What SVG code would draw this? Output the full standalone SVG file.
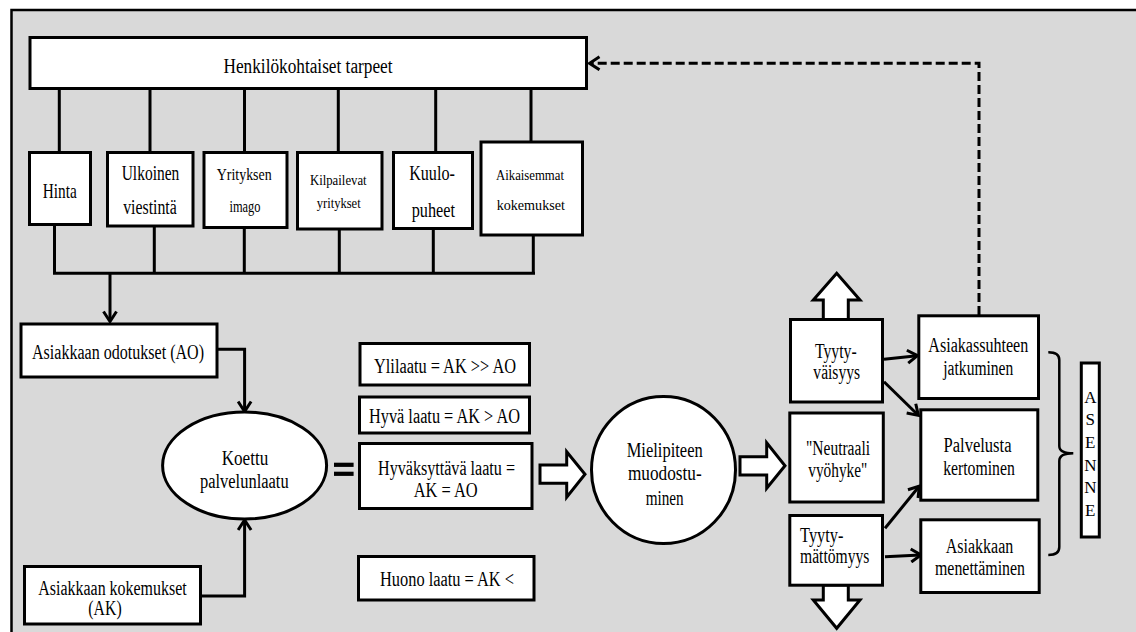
<svg xmlns="http://www.w3.org/2000/svg" width="1136" height="632" viewBox="0 0 1136 632">
<style>
.bx{fill:#fff;stroke:#000;stroke-width:3}
.ln{fill:none;stroke:#000;stroke-width:3}
.ar{fill:none;stroke:#000;stroke-width:3;marker-end:url(#ah)}
.blk{fill:#fff;stroke:#000;stroke-width:3;stroke-linejoin:miter}
.t{font-family:'Liberation Serif',serif;font-size:20px;fill:#000;text-anchor:middle}
.s14{font-size:14px}
.s15{font-size:15px}
.s17{font-size:17px}
.s21{font-size:21px}
.s22{font-size:22px}
</style>
<defs>
<marker id="ah" viewBox="0 0 16 16" refX="12.5" refY="8" markerWidth="16" markerHeight="16" markerUnits="userSpaceOnUse" orient="auto">
<path d="M3,1.5 L13,8 L3,14.5" fill="none" stroke="#000" stroke-width="3"/>
</marker>
</defs>
<rect x="0" y="0" width="1136" height="632" fill="#fff"/>
<rect x="11.5" y="10" width="1124.5" height="622" fill="#d9d9d9"/>
<path d="M11.5,632 V10 H1136" fill="none" stroke="#000" stroke-width="2.5"/>

<g id="connectors">
<path class="ln" d="M59.3,88.5 V152.5 M150,88.5 V152.5 M244.5,88.5 V152.5 M338.3,88.5 V152.5 M435.7,88.5 V152.5 M531,88.5 V142"/>
<path class="ln" d="M54.5,224.5 V273.3 M154.3,226 V273.3 M244.3,227.5 V273.3 M339.3,229 V273.3 M433.3,228.5 V273.3 M533.3,235 V273.3 M53,273.3 H535"/>
<path class="ar" d="M110,273.3 V321"/>
<path class="ar" d="M217,349.3 H244.6 V411"/>
<path class="ar" d="M200,596 H244.6 V520.5"/>
<path class="ar" d="M884,359.3 L917,355.7"/>
<path class="ar" d="M884,381.7 L918,415"/>
<path class="ar" d="M885,528.3 L919,486.5"/>
<path class="ar" d="M885,556.7 L920.5,555"/>
<path class="ar" d="M979,315 V63.3 H590" stroke-dasharray="9 4"/>
<path d="M1048.3,352.3 Q1059.3,352.3 1059.3,360 V446 Q1059.3,453.3 1073.3,453.3 Q1059.3,453.3 1059.3,461 V547 Q1059.3,555 1048.3,555" fill="none" stroke="#000" stroke-width="2.5"/>
<rect x="334" y="462.7" width="19.6" height="4.2" fill="#000"/>
<rect x="334" y="471.7" width="19.6" height="4.2" fill="#000"/>
<polygon class="blk" points="540,465 566.7,465 566.7,451.7 585,474.3 566.7,497.3 566.7,483.3 540,483.3"/>
<polygon class="blk" points="740,456.7 766.7,456.7 766.7,442.7 785,465.7 766.7,488.3 766.7,475 740,475"/>
<polygon class="blk" points="823.3,319.5 823.3,300 813.3,300 836.7,273.3 860,300 848.3,300 848.3,319.5"/>
<polygon class="blk" points="823.3,585 823.3,600 813.3,600 836.7,628.3 860,600 848.3,600 848.3,585"/>
</g>

<g id="n-tarpeet">
<rect class="bx" x="30" y="37.5" width="556.5" height="51"/>
<text class="t" x="308" y="73.3" textLength="169" lengthAdjust="spacingAndGlyphs">Henkilökohtaiset tarpeet</text>
</g>
<g id="n-hinta">
<rect class="bx" x="29.5" y="152.5" width="61" height="72"/>
<text class="t s22" x="59.7" y="198.3" textLength="34" lengthAdjust="spacingAndGlyphs">Hinta</text>
</g>
<g id="n-ulkoinen">
<rect class="bx" x="107.5" y="152.5" width="85.5" height="73.5"/>
<text class="t" x="150.5" y="180" textLength="57.6" lengthAdjust="spacingAndGlyphs">Ulkoinen</text>
<text class="t" x="150" y="214" textLength="53.6" lengthAdjust="spacingAndGlyphs">viestintä</text>
</g>
<g id="n-imago">
<rect class="bx" x="204" y="152.5" width="83" height="75"/>
<text class="t s17" x="244.2" y="180" textLength="55" lengthAdjust="spacingAndGlyphs">Yrityksen</text>
<text class="t s17" x="245" y="211.7" textLength="31" lengthAdjust="spacingAndGlyphs">imago</text>
</g>
<g id="n-kilpailevat">
<rect class="bx" x="297.5" y="152.5" width="84.5" height="76.5"/>
<text class="t s15" x="338.3" y="185" textLength="56.7" lengthAdjust="spacingAndGlyphs">Kilpailevat</text>
<text class="t s15" x="338.7" y="208.3" textLength="44" lengthAdjust="spacingAndGlyphs">yritykset</text>
</g>
<g id="n-kuulopuheet">
<rect class="bx" x="393.5" y="152.5" width="79" height="76"/>
<text class="t s22" x="432" y="180" textLength="45.7" lengthAdjust="spacingAndGlyphs">Kuulo-</text>
<text class="t s22" x="433.3" y="216.7" textLength="43.3" lengthAdjust="spacingAndGlyphs">puheet</text>
</g>
<g id="n-aikaisemmat">
<rect class="bx" x="481" y="142" width="101.5" height="93"/>
<text class="t s14" x="530" y="180" textLength="68" lengthAdjust="spacingAndGlyphs">Aikaisemmat</text>
<text class="t s14" x="530.8" y="210" textLength="68.3" lengthAdjust="spacingAndGlyphs">kokemukset</text>
</g>
<g id="n-odotukset">
<rect class="bx" x="21" y="324" width="196" height="53"/>
<text class="t" x="118" y="359" textLength="172" lengthAdjust="spacingAndGlyphs">Asiakkaan odotukset (AO)</text>
</g>
<g id="n-kokemukset">
<rect class="bx" x="24.5" y="566.5" width="176" height="57.5"/>
<text class="t" x="112.5" y="595" textLength="148.3" lengthAdjust="spacingAndGlyphs">Asiakkaan kokemukset</text>
<text class="t" x="105" y="615" textLength="33.3" lengthAdjust="spacingAndGlyphs">(AK)</text>
</g>
<g id="n-koettu">
<ellipse class="bx" cx="244.6" cy="465.5" rx="82" ry="53.5"/>
<text class="t" x="245" y="465" textLength="46.6" lengthAdjust="spacingAndGlyphs">Koettu</text>
<text class="t" x="244.3" y="488" textLength="88.6" lengthAdjust="spacingAndGlyphs">palvelunlaatu</text>
</g>
<g id="n-ylilaatu">
<rect class="bx" x="360" y="343.5" width="169.5" height="41.5"/>
<text class="t" x="445" y="373.3" textLength="142" lengthAdjust="spacingAndGlyphs">Ylilaatu = AK &gt;&gt; AO</text>
</g>
<g id="n-hyva">
<rect class="bx" x="359.5" y="397" width="170" height="36"/>
<text class="t" x="444.5" y="423.3" textLength="151" lengthAdjust="spacingAndGlyphs">Hyvä laatu = AK &gt; AO</text>
</g>
<g id="n-hyvaksyttava">
<rect class="bx" x="359.5" y="443.5" width="172.5" height="65"/>
<text class="t" x="446.5" y="475" textLength="137" lengthAdjust="spacingAndGlyphs">Hyväksyttävä laatu =</text>
<text class="t" x="445.7" y="496.7" textLength="64" lengthAdjust="spacingAndGlyphs">AK = AO</text>
</g>
<g id="n-huono">
<rect class="bx" x="358.5" y="556.5" width="175.5" height="43.5"/>
<text class="t" x="447" y="585.7" textLength="134" lengthAdjust="spacingAndGlyphs">Huono laatu = AK &lt;</text>
</g>
<g id="n-mielipide">
<ellipse class="bx" cx="663.5" cy="470" rx="72" ry="73.5"/>
<text class="t s21" x="664.7" y="456.7" textLength="76" lengthAdjust="spacingAndGlyphs">Mielipiteen</text>
<text class="t s21" x="664.8" y="480" textLength="73.7" lengthAdjust="spacingAndGlyphs">muodostu-</text>
<text class="t s21" x="664.7" y="505" textLength="38" lengthAdjust="spacingAndGlyphs">minen</text>
</g>
<g id="n-tyytyvaisyys">
<rect class="bx" x="790.5" y="319.5" width="92" height="82.5"/>
<text class="t" x="835.8" y="358.3" textLength="41.7" lengthAdjust="spacingAndGlyphs">Tyyty-</text>
<text class="t" x="836.7" y="378.5" textLength="46.7" lengthAdjust="spacingAndGlyphs">väisyys</text>
</g>
<g id="n-neutraali">
<rect class="bx" x="789.8" y="413" width="93.5" height="89"/>
<text class="t" x="838" y="455" textLength="64" lengthAdjust="spacingAndGlyphs">"Neutraali</text>
<text class="t" x="837.8" y="476.7" textLength="59" lengthAdjust="spacingAndGlyphs">vyöhyke"</text>
</g>
<g id="n-tyytymattomyys">
<rect class="bx" x="789.8" y="515.5" width="92.7" height="69.7"/>
<text class="t" x="821.7" y="541.7" textLength="43.3" lengthAdjust="spacingAndGlyphs">Tyyty-</text>
<text class="t" x="834.7" y="562.7" textLength="69.3" lengthAdjust="spacingAndGlyphs">mättömyys</text>
</g>
<g id="n-jatkuminen">
<rect class="bx" x="918.8" y="315.8" width="119.7" height="82.7"/>
<text class="t" x="978.3" y="352.3" textLength="100" lengthAdjust="spacingAndGlyphs">Asiakassuhteen</text>
<text class="t" x="978.3" y="375" textLength="70" lengthAdjust="spacingAndGlyphs">jatkuminen</text>
</g>
<g id="n-kertominen">
<rect class="bx" x="920.8" y="409.8" width="117" height="90.4"/>
<text class="t" x="977.5" y="451.7" textLength="68" lengthAdjust="spacingAndGlyphs">Palvelusta</text>
<text class="t" x="979" y="475" textLength="71.7" lengthAdjust="spacingAndGlyphs">kertominen</text>
</g>
<g id="n-menettaminen">
<rect class="bx" x="920.8" y="519.8" width="118.4" height="72.7"/>
<text class="t" x="979.5" y="553.3" textLength="67.6" lengthAdjust="spacingAndGlyphs">Asiakkaan</text>
<text class="t" x="980" y="575" textLength="90" lengthAdjust="spacingAndGlyphs">menettäminen</text>
</g>
<g id="n-asenne">
<rect class="bx" x="1081.3" y="363" width="18" height="174"/>
<text class="t s17" x="1090.3" y="402.5">A</text>
<text class="t s17" x="1090.3" y="425.2">S</text>
<text class="t s17" x="1090.3" y="447.9">E</text>
<text class="t s17" x="1090.3" y="470.6">N</text>
<text class="t s17" x="1090.3" y="493.3">N</text>
<text class="t s17" x="1090.3" y="516">E</text>
</g>
</svg>
